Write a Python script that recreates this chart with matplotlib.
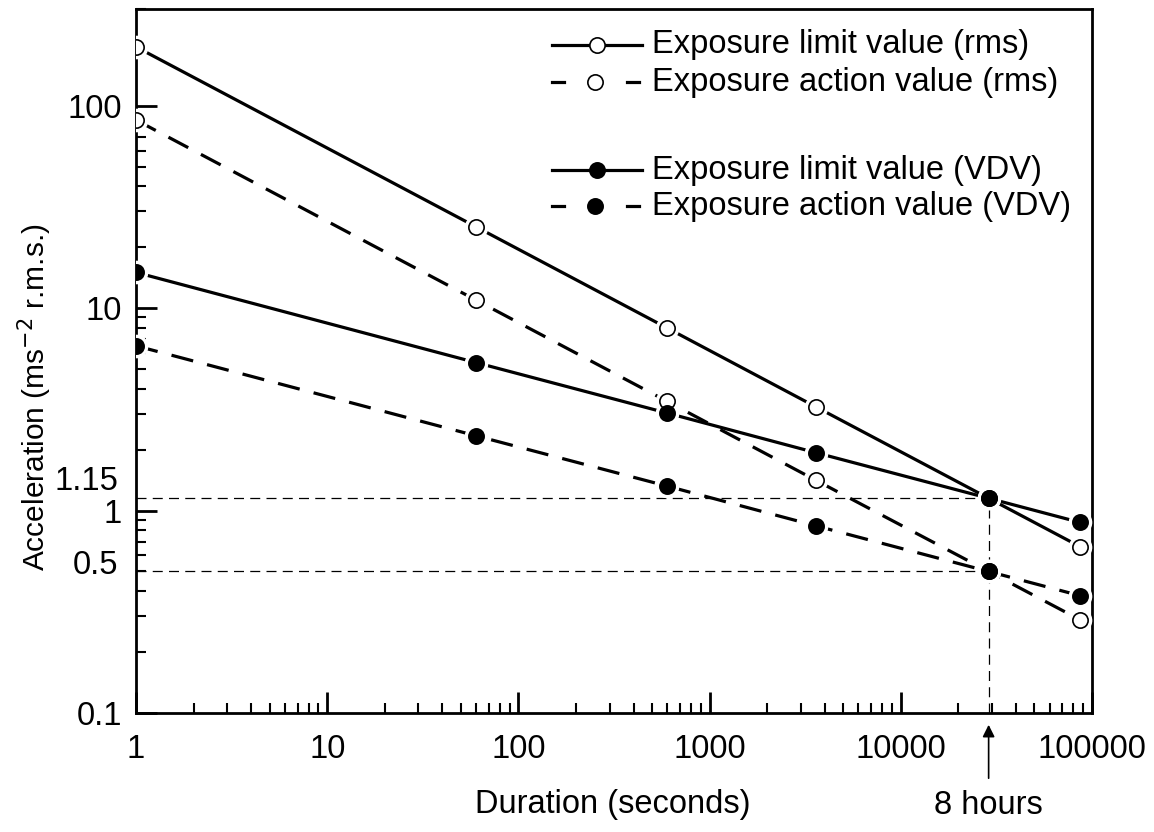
import matplotlib
matplotlib.use("Agg")
import matplotlib.pyplot as plt
from matplotlib.lines import Line2D
import matplotlib.transforms as mtransforms

plt.rcParams['font.family'] = ['Liberation Sans', 'DejaVu Sans']

# Data
duration = [1, 60, 600, 3600, 28800, 86400]
limit_rms = [195, 25.2, 7.97, 3.25, 1.15, 0.664]
action_rms = [84.9, 10.95, 3.46, 1.41, 0.5, 0.289]
limit_vdv = [15.0, 5.38, 3.03, 1.93, 1.15, 0.874]
action_vdv = [6.51, 2.34, 1.32, 0.84, 0.5, 0.38]

labels = ["Exposure limit value (rms)", "Exposure action value (rms)",
          "Exposure limit value (VDV)", "Exposure action value (VDV)"]
ytick_vals = [0.1, 1, 10, 100]
ytick_labels = ["0.1", "1", "10", "100"]
extra_ylabels = [(0.5, "0.5"), (1.15, "1.15")]
xtick_vals = [1, 10, 100, 1000, 10000, 100000]
xtick_labels = ["1", "10", "100", "1000", "10000", "100000"]
eight_hours = 28800
ref_levels = [1.15, 0.5]

FS = 23.5
W, H = 1154, 832
fig = plt.figure(figsize=(W / 100, H / 100), dpi=100)
ax = fig.add_axes([136 / W, 1 - 713 / H, (1092 - 136) / W, (713 - 9) / H])
ax.set_xscale('log')
ax.set_yscale('log')
ax.set_xlim(1, 100000)
ax.set_ylim(0.1, 300)

lw = 2.3
ms = 11
dash = (7, 4.5)

series = [
    (limit_rms, '-', 'white'),
    (action_rms, '--', 'white'),
    (limit_vdv, '-', 'black'),
    (action_vdv, '--', 'black'),
]
for vals, ls, fc in series:
    kw = dict(color='black', lw=lw)
    if ls == '--':
        kw['dashes'] = dash
    ax.plot(duration, vals, ls, zorder=2, **kw)
    # white halo behind markers to create gaps
    ax.plot(duration, vals, 'o', ls='none', ms=ms + 5, mfc='white', mec='white', zorder=3)
    ax.plot(duration, vals, 'o', ls='none', ms=ms, mfc=fc, mec='black', mew=1.2, zorder=4)

# reference dashed lines
for lev in ref_levels:
    ax.plot([1, eight_hours], [lev, lev], color='black', lw=0.9, dashes=(8, 5), zorder=1)
ax.plot([eight_hours, eight_hours], [0.1, 1.15], color='black', lw=0.9, dashes=(8, 5), zorder=1)

# manual legend (figure pixel coordinates)
def px(x, y):
    return x / W, 1 - y / H

rows_y = [45, 82, 170, 206]
for (vals, ls, fc), lab, ry in zip(series, labels, rows_y):
    if ls == '-':
        x0, y0 = px(552, ry)
        x1, _ = px(642, ry)
        fig.add_artist(Line2D([x0, x1], [y0, y0], color='black', lw=lw))
        mx, _ = px(597, ry)
    else:
        for a, b in [(552, 564), (627, 639)]:
            xa, y0 = px(a, ry)
            xb, _ = px(b, ry)
            fig.add_artist(Line2D([xa, xb], [y0, y0], color='black', lw=lw))
        mx, _ = px(595, ry)
    fig.add_artist(Line2D([mx], [y0], marker='o', ms=ms, mfc=fc, mec='black', mew=1.2,
                          ls='none'))
    tx, _ = px(652, ry)
    fig.text(tx, y0, lab, ha='left', va='center', fontsize=FS)

# ticks
ax.set_xticks(xtick_vals)
ax.set_xticklabels(xtick_labels)
ax.set_yticks(ytick_vals)
ax.set_yticklabels(ytick_labels)
ax.tick_params(which='major', direction='in', length=15, width=2, labelsize=FS, pad=10)
ax.tick_params(which='minor', direction='in', length=7, width=1.5)
ax.tick_params(axis='x', which='major', pad=15)
for s in ax.spines.values():
    s.set_linewidth(2)

trans = mtransforms.blended_transform_factory(ax.transAxes, ax.transData)
ax.text(0, 1.15, "1.15", transform=mtransforms.offset_copy(trans, fig=fig, x=-12.5, y=1, units='points'),
        ha='right', va='bottom', fontsize=FS)
ax.text(0, 0.5, "0.5", transform=mtransforms.offset_copy(trans, fig=fig, x=-12.5, y=4, units='points'),
        ha='right', va='center', fontsize=FS)

fig.text(613 / W, 1 - 805 / H, "Duration (seconds)", ha='center', va='center', fontsize=FS)
fig.text(35 / W, 1 - 397 / H, "Acceleration (ms$^{-2}$ r.m.s.)", rotation=90,
         ha='center', va='center', fontsize=21.5)

# 8 hours arrow
xtrans = mtransforms.blended_transform_factory(ax.transData, fig.transFigure)
ax.annotate("", xy=(eight_hours, 1 - 722 / H), xycoords=xtrans,
            xytext=(eight_hours, 1 - 781 / H), textcoords=xtrans,
            arrowprops=dict(arrowstyle='-|>', color='black', lw=1.2, mutation_scale=18),
            annotation_clip=False)
ax.text(eight_hours, 1 - 805 / H, "8 hours", transform=xtrans, ha='center', va='center',
        fontsize=FS, clip_on=False)

fig.savefig("out.png", dpi=100)
